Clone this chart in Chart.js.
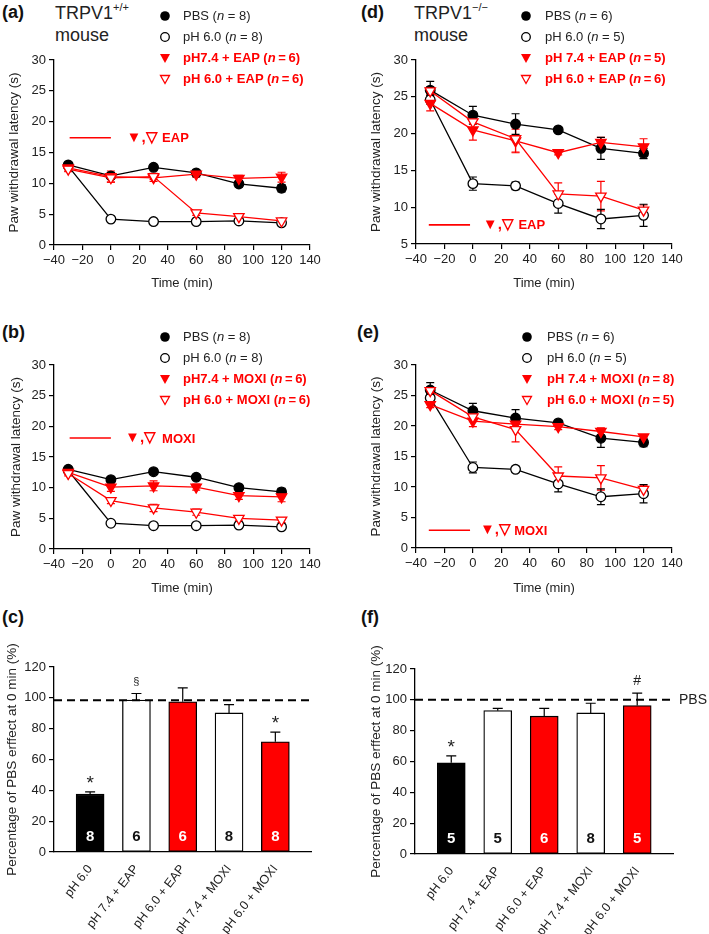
<!doctype html>
<html>
<head>
<meta charset="utf-8">
<title>TRPV1 - paw withdrawal latency</title>
<script src="https://cdn.jsdelivr.net/npm/chart.js"></script>
<style>
  body { margin:0; background:#fff; font-family:"Liberation Sans", Arial, sans-serif; color:#222; }
  #page { position:relative; width:709px; height:934px; overflow:hidden; background:#fff; }
  canvas { position:absolute; }
  .lab { position:absolute; font-weight:bold; font-size:18px; color:#111; }
  .ttl { position:absolute; font-size:18px; line-height:22px; color:#222; }
  .ttl sup { font-size:11px; vertical-align:8px; line-height:0; }
  .leg { position:absolute; font-size:13px; line-height:21px; white-space:nowrap; z-index:2; }
  .leg div { height:21px; display:flex; align-items:center; }
  .leg svg { flex:none; }
  .red { color:#f00; font-weight:bold; }
</style>
</head>
<body>
<div id="page">
  <div class="lab" style="left:2px;top:2px">(a)</div>
  <div class="ttl" style="left:55px;top:2px">TRPV1<sup>+/+</sup><br>mouse</div>
  <div class="leg" id="leg-a" style="left:159px;top:5px"></div>

  <div class="lab" style="left:361px;top:2px">(d)</div>
  <div class="ttl" style="left:414px;top:2px">TRPV1<sup>−/−</sup><br>mouse</div>
  <div class="leg" id="leg-d" style="left:520px;top:5px"></div>

  <div class="lab" style="left:2px;top:322px">(b)</div>
  <div class="leg" id="leg-b" style="left:159px;top:326px"></div>

  <div class="lab" style="left:357px;top:322px">(e)</div>
  <div class="leg" id="leg-e" style="left:521px;top:326px"></div>

  <div class="lab" style="left:2px;top:607px">(c)</div>
  <div class="lab" style="left:361px;top:607px">(f)</div>
</div>
<script>
// time points (min)
const times = [-30, 0, 30, 60, 90, 120];

// (a) TRPV1+/+ mouse, EAP
const aPbs = [13.0, 11.2, 12.6, 11.7, 9.9, 9.2];
const aPbsErr = [0.3, 0.4, 0.4, 0.4, 0.5, 0.6];
const aPh6 = [12.8, 4.2, 3.8, 3.8, 3.9, 3.6];
const aPh6Err = [0.3, 0.3, 0.3, 0.3, 0.3, 0.3];
const aEap74 = [12.5, 11.1, 10.9, 11.5, 10.8, 11.0];
const aEap74Err = [0.5, 0.9, 0.6, 0.5, 0.5, 0.8];
const aEap60 = [12.3, 10.9, 11.1, 5.2, 4.6, 3.9];
const aEap60Err = [0.4, 0.7, 0.5, 0.4, 0.4, 0.4];

// (b) TRPV1+/+ mouse, MOXI
const bPbs = [13.0, 11.3, 12.6, 11.7, 10.0, 9.3];
const bPbsErr = [0.3, 0.4, 0.4, 0.4, 0.5, 0.6];
const bPh6 = [12.8, 4.2, 3.8, 3.8, 3.9, 3.6];
const bPh6Err = [0.3, 0.3, 0.3, 0.3, 0.3, 0.3];
const bMoxi74 = [12.5, 10.1, 10.3, 10.1, 8.7, 8.5];
const bMoxi74Err = [0.4, 0.7, 0.8, 0.5, 0.6, 0.8];
const bMoxi60 = [12.3, 7.9, 6.7, 6.0, 5.0, 4.7];
const bMoxi60Err = [0.4, 0.5, 0.6, 0.5, 0.4, 0.4];

// (d) TRPV1-/- mouse, EAP
const dPbs = [25.9, 22.5, 21.3, 20.5, 18.0, 17.3];
const dPbsErr = [1.2, 1.2, 1.4, 0.3, 1.5, 0.7];
const dPh6 = [24.6, 13.2, 12.9, 10.5, 8.4, 8.9];
const dPh6Err = [0.6, 0.9, 0.5, 1.3, 1.3, 1.5];
const dEap74 = [24.1, 20.5, 19.0, 17.4, 18.8, 18.2];
const dEap74Err = [1.0, 1.4, 1.6, 0.3, 0.7, 1.1];
const dEap60 = [25.8, 21.6, 19.3, 11.8, 11.5, 9.6];
const dEap60Err = [0.5, 0.8, 1.8, 1.5, 2.0, 0.7];

// (e) TRPV1-/- mouse, MOXI
const ePbs = [25.9, 22.5, 21.3, 20.5, 18.0, 17.3];
const ePbsErr = [1.2, 1.2, 1.4, 0.3, 1.5, 0.7];
const ePh6 = [24.6, 13.2, 12.9, 10.5, 8.4, 8.9];
const ePh6Err = [0.6, 0.9, 0.5, 1.3, 1.3, 1.5];
const eMoxi74 = [23.5, 20.8, 20.3, 19.9, 19.1, 18.2];
const eMoxi74Err = [0.5, 0.9, 0.5, 0.5, 0.6, 0.4];
const eMoxi60 = [25.8, 21.5, 19.4, 11.8, 11.5, 9.6];
const eMoxi60Err = [0.5, 0.8, 2.0, 1.5, 2.0, 0.7];

// (c) / (f) percentage of PBS effect at 0 min
const barLabels = ['pH 6.0', 'pH 7.4 + EAP', 'pH 6.0 + EAP', 'pH 7.4 + MOXI', 'pH 6.0 + MOXI'];
const barFill = ['#000', '#fff', '#f00', '#fff', '#f00'];
const cMean = [37.5, 98.5, 97.4, 90.2, 71.5];
const cErr = [1.5, 4.3, 9.0, 5.4, 6.2];
const cN = ['8', '6', '6', '8', '8'];
const cMarks = ['*', '§', '', '', '*'];
const cRef = 98.5;
const fMean = [59.2, 93.0, 89.4, 91.5, 96.3];
const fErr = [4.5, 1.5, 5.0, 6.3, 8.0];
const fN = ['5', '5', '6', '8', '5'];
const fMarks = ['*', '', '', '', '#'];
const fRef = 100;

const RED = '#ff0000';
const INK = '#000';
const FONT = '"Liberation Sans", Arial, sans-serif';

Chart.defaults.font.family = FONT;
Chart.defaults.color = '#222';
Chart.defaults.animation = false;

// legends (html)
function legend(id, rows) {
  const el = document.getElementById(id);
  const mk = {
    dot: '<circle cx="6" cy="6" r="4.8" fill="#000"/>',
    ring: '<circle cx="6" cy="6" r="4.3" fill="#fff" stroke="#000" stroke-width="1.3"/>',
    tri: '<polygon points="1,2 11,2 6,11" fill="#f00"/>',
    otri: '<polygon points="1.5,2.5 10.5,2.5 6,10.5" fill="#fff" stroke="#f00" stroke-width="1.3"/>'
  };
  rows.forEach(r => {
    const red = r[0].indexOf('tri') >= 0;
    const nEq = red ? '(<i>n</i>\u2009=\u2009' + r[2] + ')' : '(<i>n</i> = ' + r[2] + ')';
    const d = document.createElement('div');
    d.innerHTML = '<svg width="12" height="12" style="margin-right:' + r[3] + 'px">' + mk[r[0]] + '</svg>' +
      '<span' + (red ? ' class="red"' : '') + '>' + r[1] + ' ' + nEq + '</span>';
    el.appendChild(d);
  });
}
legend('leg-a', [['dot', 'PBS', 8, 12], ['ring', 'pH 6.0', 8, 12], ['tri', 'pH7.4 + EAP', 6, 12], ['otri', 'pH 6.0 + EAP', 6, 12]]);
legend('leg-b', [['dot', 'PBS', 8, 12], ['ring', 'pH 6.0', 8, 12], ['tri', 'pH7.4 + MOXI', 6, 12], ['otri', 'pH 6.0 + MOXI', 6, 12]]);
legend('leg-d', [['dot', 'PBS', 6, 13], ['ring', 'pH 6.0', 5, 13], ['tri', 'pH 7.4 + EAP', 5, 13], ['otri', 'pH 6.0 + EAP', 6, 13]]);
legend('leg-e', [['dot', 'PBS', 6, 14], ['ring', 'pH 6.0', 5, 14], ['tri', 'pH 7.4 + MOXI', 8, 14], ['otri', 'pH 6.0 + MOXI', 5, 14]]);

// error bars (SEM)
const errorBars = {
  id: 'errorBars',
  beforeDatasetsDraw(chart) {
    const ctx = chart.ctx;
    const ys = chart.scales.y;
    chart.data.datasets.forEach((ds, di) => {
      if (!ds.err) return;
      const meta = chart.getDatasetMeta(di);
      ctx.save();
      ctx.strokeStyle = ds.borderColor;
      ctx.lineWidth = 1.2;
      meta.data.forEach((el, i) => {
        const e = ds.err[i];
        if (!e) return;
        const m = ds.data[i].y;
        const top = ys.getPixelForValue(m + e);
        const bot = ds.upOnly ? el.y : ys.getPixelForValue(m - e);
        const c = ds.cap || 4;
        ctx.beginPath();
        ctx.moveTo(el.x, top); ctx.lineTo(el.x, bot);
        ctx.moveTo(el.x - c, top); ctx.lineTo(el.x + c, top);
        if (!ds.upOnly) { ctx.moveTo(el.x - c, bot); ctx.lineTo(el.x + c, bot); }
        ctx.stroke();
      });
      ctx.restore();
    });
  }
};

// y axis title, free length (longer than the axis in the bar panels)
const yTitle = {
  id: 'yTitle',
  afterDraw(chart, args, o) {
    const {ctx, chartArea} = chart;
    ctx.save();
    ctx.translate(o.x, (chartArea.top + chartArea.bottom) / 2);
    ctx.rotate(-Math.PI / 2);
    ctx.fillStyle = '#222';
    ctx.font = '13.5px ' + FONT;
    ctx.textAlign = 'center';
    ctx.textBaseline = 'middle';
    ctx.fillText(o.text, 0, 0);
    ctx.restore();
  }
};

// red "treatment" note inside the line panels
const notePlugin = {
  id: 'note',
  afterDatasetsDraw(chart, args, o) {
    if (!o || !o.text) return;
    const {ctx, scales: {x, y}} = chart;
    const py = y.getPixelForValue(o.y);
    ctx.save();
    ctx.strokeStyle = RED;
    ctx.lineWidth = 1.6;
    ctx.beginPath();
    ctx.moveTo(x.getPixelForValue(o.x0), py);
    ctx.lineTo(x.getPixelForValue(o.x1), py);
    ctx.stroke();
    ctx.fillStyle = RED;
    ctx.textBaseline = 'middle';
    ctx.font = 'bold 15px ' + FONT;
    ctx.fillText('\u25BC,\u25BD', x.getPixelForValue(o.xSym), py);
    ctx.font = 'bold 13px ' + FONT;
    ctx.fillText(o.text, x.getPixelForValue(o.xText), py + 1);
    ctx.restore();
  }
};

// n values, significance marks, PBS dashed line
const barText = {
  id: 'barText',
  afterDatasetsDraw(chart, args, o) {
    const {ctx, chartArea, scales: {y}} = chart;
    const ds = chart.data.datasets[0];
    const meta = chart.getDatasetMeta(0);
    ctx.save();
    const ry = y.getPixelForValue(o.ref);
    ctx.strokeStyle = INK;
    ctx.lineWidth = 2;
    ctx.setLineDash([8, 5]);
    ctx.beginPath();
    ctx.moveTo(chartArea.left, ry);
    ctx.lineTo(chartArea.right + (o.extend || 0), ry);
    ctx.stroke();
    ctx.setLineDash([]);
    if (o.refLabel) {
      ctx.fillStyle = '#222';
      ctx.font = '14px ' + FONT;
      ctx.textBaseline = 'middle';
      ctx.textAlign = 'left';
      ctx.fillText(o.refLabel, chartArea.right + o.extend + 4, ry);
    }
    ctx.textAlign = 'center';
    meta.data.forEach((el, i) => {
      ctx.textBaseline = 'middle';
      ctx.font = 'bold 15px ' + FONT;
      ctx.fillStyle = barFill[i] === '#fff' ? '#111' : '#fff';
      ctx.fillText(o.n[i], el.x, y.getPixelForValue(9.8));
      const mk = o.marks[i];
      if (!mk) return;
      const top = y.getPixelForValue(ds.data[i].y + ds.err[i]);
      ctx.fillStyle = '#222';
      if (mk === '*') { ctx.font = '19px ' + FONT; ctx.fillText(mk, el.x, top - 8); }
      else if (mk === '§') { ctx.font = '11px ' + FONT; ctx.fillText(mk, el.x, top - 12); }
      else { ctx.font = '14px ' + FONT; ctx.fillText(mk, el.x, top - 12); }
    });
    ctx.restore();
  }
};

function makeCanvas(box) {
  const c = document.createElement('canvas');
  c.width = box.w; c.height = box.h;
  c.style.left = box.left + 'px'; c.style.top = box.top + 'px';
  c.style.width = box.w + 'px'; c.style.height = box.h + 'px';
  document.getElementById('page').appendChild(c);
  return c;
}

const minus = v => String(v).replace('-', '\u2212');

function lineSet(label, vals, err, color, filled, tri, order) {
  return {
    label,
    data: times.map((t, i) => ({x: t, y: vals[i]})),
    err,
    order,
    borderColor: color,
    backgroundColor: color,
    borderWidth: 1.3,
    pointStyle: tri ? 'triangle' : 'circle',
    pointRotation: tri ? 180 : 0,
    pointRadius: tri ? 6 : 4.8,
    pointBorderWidth: 1.3,
    pointBorderColor: color,
    pointBackgroundColor: filled ? color : '#fff',
    tension: 0
  };
}

function lineChart(box, area, yMin, sets, note, titleX) {
  const cv = makeCanvas(box);
  const yW = area.left - box.left;
  const xH = box.top + box.h - area.bottom;
  return new Chart(cv, {
    type: 'line',
    data: {datasets: sets},
    options: {
      responsive: false,
      layout: {padding: {top: area.top - box.top, right: box.left + box.w - area.right, left: 0, bottom: 0}},
      plugins: {legend: {display: false}, tooltip: {enabled: false}, note,
        yTitle: {text: 'Paw withdrawal latency (s)', x: titleX}},
      scales: {
        x: {
          type: 'linear', min: -40, max: 140,
          afterBuildTicks: s => { s.ticks = [-40, -20, 0, 20, 40, 60, 80, 100, 120, 140].map(v => ({value: v})); },
          ticks: {font: {size: 13}, padding: 3, maxRotation: 0, callback: minus},
          grid: {drawOnChartArea: false, tickLength: 5, color: INK, lineWidth: 1.2},
          border: {color: INK, width: 1.3},
          title: {display: true, text: 'Time (min)', font: {size: 13}, padding: {bottom: 9}},
          afterFit: s => { s.height = xH; }
        },
        y: {
          min: yMin, max: 30,
          ticks: {stepSize: 5, font: {size: 13}, padding: 3},
          grid: {drawOnChartArea: false, tickLength: 5, color: INK, lineWidth: 1.2},
          border: {color: INK, width: 1.3},
          afterFit: s => { s.width = yW; }
        }
      }
    },
    plugins: [errorBars, notePlugin, yTitle]
  });
}

function barChart(box, area, mean, err, n, marks, ref, refLabel, extend, titleX) {
  const cv = makeCanvas(box);
  const yW = area.left - box.left;
  const xH = box.top + box.h - area.bottom;
  return new Chart(cv, {
    type: 'bar',
    data: {datasets: [{
      data: mean.map((v, i) => ({x: i + 1, y: v})),
      err, upOnly: true, cap: 5,
      backgroundColor: barFill,
      borderColor: INK,
      borderWidth: 1.3,
      borderSkipped: false,
      barThickness: 28
    }]},
    options: {
      responsive: false,
      layout: {padding: {top: area.top - box.top, right: box.left + box.w - area.right, left: 0, bottom: 0}},
      plugins: {legend: {display: false}, tooltip: {enabled: false}, barText: {n, marks, ref, refLabel, extend},
        yTitle: {text: 'Percentage of PBS erffect at 0 min (%)', x: titleX}},
      scales: {
        x: {
          type: 'linear', min: 0.22, max: 5.77, offset: false,
          afterBuildTicks: s => { s.ticks = barLabels.map((_, i) => ({value: i + 1})); },
          ticks: {font: {size: 12.5}, padding: 2, minRotation: 52, maxRotation: 52, callback: v => barLabels[v - 1]},
          grid: {display: false, offset: false},
          border: {color: INK, width: 1.3},
          afterFit: s => { s.height = xH; }
        },
        y: {
          min: 0, max: 120,
          ticks: {stepSize: 20, font: {size: 13}, padding: 3},
          grid: {drawOnChartArea: false, tickLength: 5, color: INK, lineWidth: 1.2},
          border: {color: INK, width: 1.3},
          afterFit: s => { s.width = yW; }
        }
      }
    },
    plugins: [errorBars, barText, yTitle]
  });
}

// (a)
lineChart({left: 0, top: 40, w: 350, h: 260}, {left: 54, right: 310, top: 60, bottom: 245}, 0, [
  lineSet('pH 6.0 + EAP', aEap60, aEap60Err, RED, false, true, 1),
  lineSet('pH7.4 + EAP', aEap74, aEap74Err, RED, true, true, 2),
  lineSet('PBS', aPbs, aPbsErr, INK, true, false, 3),
  lineSet('pH 6.0', aPh6, aPh6Err, INK, false, false, 4)
], {y: 17.4, x0: -29, x1: 0, xSym: 11, xText: 36, text: 'EAP'}, 14);

// (b)
lineChart({left: 0, top: 345, w: 350, h: 260}, {left: 54, right: 310, top: 365, bottom: 549}, 0, [
  lineSet('pH 6.0 + MOXI', bMoxi60, bMoxi60Err, RED, false, true, 1),
  lineSet('pH7.4 + MOXI', bMoxi74, bMoxi74Err, RED, true, true, 2),
  lineSet('PBS', bPbs, bPbsErr, INK, true, false, 3),
  lineSet('pH 6.0', bPh6, bPh6Err, INK, false, false, 4)
], {y: 18.1, x0: -29, x1: 0, xSym: 10, xText: 36, text: 'MOXI'}, 16);

// (d)
lineChart({left: 355, top: 40, w: 354, h: 260}, {left: 416, right: 672, top: 60, bottom: 244}, 5, [
  lineSet('pH 6.0 + EAP', dEap60, dEap60Err, RED, false, true, 1),
  lineSet('pH 7.4 + EAP', dEap74, dEap74Err, RED, true, true, 2),
  lineSet('PBS', dPbs, dPbsErr, INK, true, false, 3),
  lineSet('pH 6.0', dPh6, dPh6Err, INK, false, false, 4)
], {y: 7.6, x0: -31, x1: -2, xSym: 7, xText: 32, text: 'EAP'}, 21);

// (e)
lineChart({left: 355, top: 345, w: 354, h: 260}, {left: 416, right: 672, top: 365, bottom: 548}, 0, [
  lineSet('pH 6.0 + MOXI', eMoxi60, eMoxi60Err, RED, false, true, 1),
  lineSet('pH 7.4 + MOXI', eMoxi74, eMoxi74Err, RED, true, true, 2),
  lineSet('PBS', ePbs, ePbsErr, INK, true, false, 3),
  lineSet('pH 6.0', ePh6, ePh6Err, INK, false, false, 4)
], {y: 2.9, x0: -31, x1: -2, xSym: 5, xText: 29, text: 'MOXI'}, 21);

// (c)
barChart({left: 0, top: 640, w: 350, h: 294}, {left: 54, right: 311, top: 667, bottom: 852},
  cMean, cErr, cN, cMarks, cRef, '', 0, 12);

// (f)
barChart({left: 355, top: 640, w: 354, h: 294}, {left: 415, right: 673, top: 669, bottom: 854},
  fMean, fErr, fN, fMarks, fRef, 'PBS', 2, 21);
</script>
</body>
</html>
